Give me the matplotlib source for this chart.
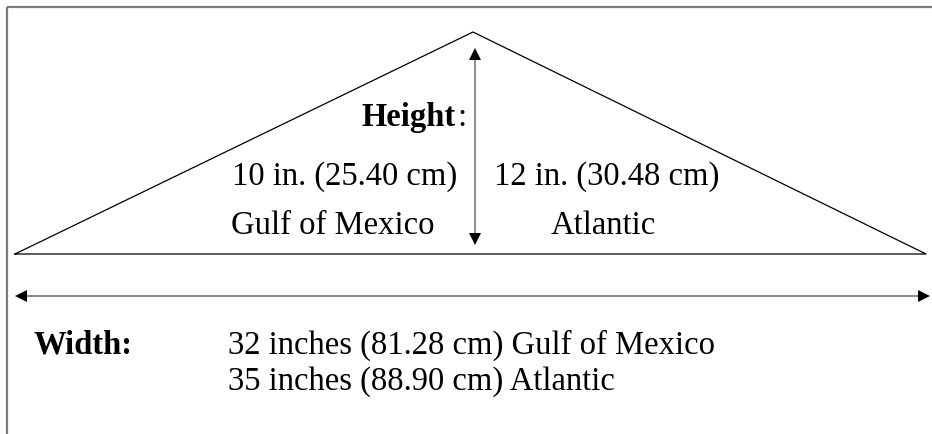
import matplotlib.pyplot as plt

# text content of the diagram
height_label = "Height"
height_values = ["10 in. (25.40 cm)", "12 in. (30.48 cm)"]
regions = ["Gulf of Mexico", "Atlantic"]
width_label = "Width:"
width_values = ["32 inches (81.28 cm) Gulf of Mexico", "35 inches (88.90 cm) Atlantic"]

W, H = 932, 434
fig = plt.figure(figsize=(W / 100, H / 100), dpi=100)
ax = fig.add_axes([0, 0, 1, 1])
ax.set_xlim(0, W)
ax.set_ylim(H, 0)
ax.axis("off")

font = dict(family=["Liberation Serif", "DejaVu Serif"], fontsize=23.5, color="black")
gray = "#7a7a7a"

# frame (top and left)
ax.plot([7, W], [7, 7], color=gray, lw=1.6, solid_capstyle="butt")
ax.plot([7, 7], [7, H], color=gray, lw=1.6, solid_capstyle="butt")

# triangle
ax.plot([15, 473, 926, 15], [254, 32, 254, 254], color="black", lw=0.9)

# vertical height arrow
ax.plot([475, 475], [52, 240], color=gray, lw=1.2)
ax.plot(475, 54, marker="^", ms=9, color="black", mew=0)
ax.plot(475, 239, marker="v", ms=9, color="black", mew=0)

# horizontal width arrow
ax.plot([20, 924], [296, 296], color=gray, lw=1.2)
ax.plot(21, 296, marker="<", ms=9, color="black", mew=0)
ax.plot(924, 296, marker=">", ms=9, color="black", mew=0)

# height text: bold label, plain colon right after it
ax.text(456, 126, height_label, ha="right", va="baseline", fontweight="bold", **font)
ax.text(457, 126, ":", ha="left", va="baseline", **font)
ax.text(232, 185, height_values[0], ha="left", va="baseline", **font)
ax.text(494, 185, height_values[1], ha="left", va="baseline", **font)
ax.text(231, 234, regions[0], ha="left", va="baseline", **font)
ax.text(551, 234, regions[1], ha="left", va="baseline", **font)

# width text
ax.text(33, 354, width_label, ha="left", va="baseline", fontweight="bold", **font)
ax.text(228, 354, width_values[0], ha="left", va="baseline", **font)
ax.text(228, 390, width_values[1], ha="left", va="baseline", **font)

fig.savefig("out.png", dpi=100)
